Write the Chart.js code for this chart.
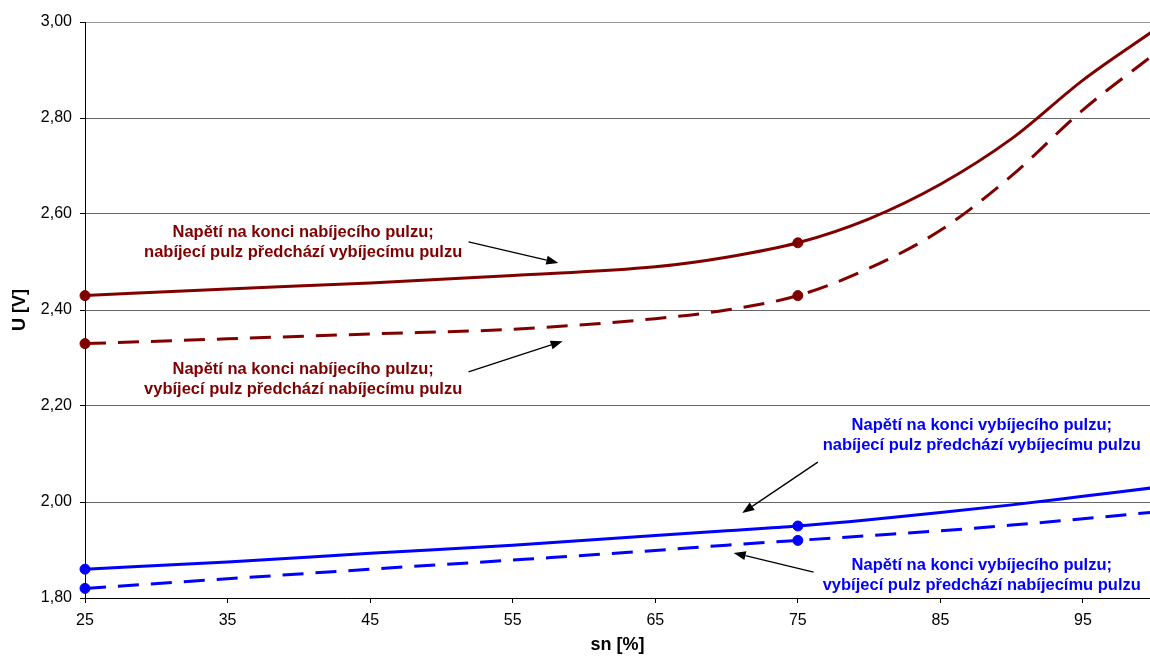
<!DOCTYPE html>
<html>
<head>
<meta charset="utf-8">
<script src="https://cdn.jsdelivr.net/npm/chart.js@4"></script>
<style>
  body { margin: 0; background: #fff; overflow: hidden; }
  #wrap { width: 1150px; height: 657px; position: relative; }
</style>
</head>
<body>
<div id="wrap"><canvas id="myChart"></canvas></div>
<script>
// osa x: sn [%]
const snValues = [25, 35, 45, 55, 65, 70, 75, 80, 85, 90, 95, 100];
// napětí na konci nabíjecího pulzu
const chargeEndChargeFirst = [2.43, 2.444, 2.456, 2.472, 2.49, 2.51, 2.54, 2.59, 2.662, 2.757, 2.879, 2.983];
const chargeEndDischargeFirst = [2.33, 2.34, 2.35, 2.36, 2.382, 2.40, 2.43, 2.487, 2.566, 2.68, 2.817, 2.933];
// napětí na konci vybíjecího pulzu
const dischargeEndChargeFirst = [1.86, 1.875, 1.893, 1.91, 1.93, 1.94, 1.95, 1.963, 1.978, 1.994, 2.012, 2.03];
const dischargeEndDischargeFirst = [1.82, 1.84, 1.86, 1.879, 1.899, 1.91, 1.92, 1.93, 1.94, 1.952, 1.965, 1.979];
// měřené body (značky)
const markedSn = [25, 75];
const xTicks = [25, 35, 45, 55, 65, 75, 85, 95];
const yTicks = [1.8, 2.0, 2.2, 2.4, 2.6, 2.8, 3.0];

const RED = "#800000";
const BLUE = "#0000FF";
const FONT = "'Liberation Sans', Arial, sans-serif";

function toPoints(ys) {
  return snValues.map((x, i) => ({ x: x, y: ys[i] }));
}

function makeSet(label, ys, color, dashed) {
  return {
    label: label,
    data: toPoints(ys),
    borderColor: color,
    backgroundColor: color,
    borderWidth: 3,
    borderDash: dashed ? [21, 12] : [],
    cubicInterpolationMode: "monotone",
    pointRadius: (ctx) => (ctx.raw && markedSn.includes(ctx.raw.x) ? 5 : 0),
    pointHoverRadius: 0,
    pointBorderWidth: 1,
    clip: { left: 10, top: 0, right: 0, bottom: 10 },
  };
}

// popisky se šipkami (souřadnice v jednotkách os)
const notes = [
  { color: RED, x: 40.3, y: 2.54, lines: ["Napětí na konci nabíjecího pulzu;", "nabíjecí pulz předchází vybíjecímu pulzu"], from: [51.9, 2.542], to: [58.2, 2.498] },
  { color: RED, x: 40.3, y: 2.256, lines: ["Napětí na konci nabíjecího pulzu;", "vybíjecí pulz předchází nabíjecímu pulzu"], from: [51.9, 2.271], to: [58.5, 2.335] },
  { color: BLUE, x: 87.9, y: 2.139, lines: ["Napětí na konci vybíjecího pulzu;", "nabíjecí pulz předchází vybíjecímu pulzu"], from: [76.4, 2.083], to: [71.1, 1.977] },
  { color: BLUE, x: 87.9, y: 1.848, lines: ["Napětí na konci vybíjecího pulzu;", "vybíjecí pulz předchází nabíjecímu pulzu"], from: [76.1, 1.854], to: [70.5, 1.894] },
];

const notesPlugin = {
  id: "notes",
  afterDatasetsDraw(chart) {
    const ctx = chart.ctx;
    const xs = chart.scales.x, ys = chart.scales.y;
    ctx.save();
    ctx.font = "bold 16.5px " + FONT;
    ctx.textAlign = "center";
    ctx.textBaseline = "middle";
    notes.forEach((n) => {
      ctx.fillStyle = n.color;
      const cx = xs.getPixelForValue(n.x);
      const cy = ys.getPixelForValue(n.y);
      ctx.fillText(n.lines[0], cx, cy - 10);
      ctx.fillText(n.lines[1], cx, cy + 10);

      const x1 = xs.getPixelForValue(n.from[0]), y1 = ys.getPixelForValue(n.from[1]);
      const x2 = xs.getPixelForValue(n.to[0]), y2 = ys.getPixelForValue(n.to[1]);
      const ang = Math.atan2(y2 - y1, x2 - x1);
      const hl = 12, hw = 4.5;
      ctx.strokeStyle = "#000";
      ctx.fillStyle = "#000";
      ctx.lineWidth = 1.3;
      ctx.beginPath();
      ctx.moveTo(x1, y1);
      ctx.lineTo(x2 - Math.cos(ang) * hl, y2 - Math.sin(ang) * hl);
      ctx.stroke();
      ctx.beginPath();
      ctx.moveTo(x2, y2);
      ctx.lineTo(x2 - Math.cos(ang) * hl - Math.sin(ang) * hw, y2 - Math.sin(ang) * hl + Math.cos(ang) * hw);
      ctx.lineTo(x2 - Math.cos(ang) * hl + Math.sin(ang) * hw, y2 - Math.sin(ang) * hl - Math.cos(ang) * hw);
      ctx.closePath();
      ctx.fill();
    });
    ctx.restore();
  },
};

const ctx = document.getElementById("myChart").getContext("2d");
new Chart(ctx, {
  type: "line",
  data: {
    datasets: [
      makeSet("Napětí na konci nabíjecího pulzu; nabíjecí pulz předchází vybíjecímu pulzu", chargeEndChargeFirst, RED, false),
      makeSet("Napětí na konci nabíjecího pulzu; vybíjecí pulz předchází nabíjecímu pulzu", chargeEndDischargeFirst, RED, true),
      makeSet("Napětí na konci vybíjecího pulzu; nabíjecí pulz předchází vybíjecímu pulzu", dischargeEndChargeFirst, BLUE, false),
      makeSet("Napětí na konci vybíjecího pulzu; vybíjecí pulz předchází nabíjecímu pulzu", dischargeEndDischargeFirst, BLUE, true),
    ],
  },
  options: {
    responsive: true,
    maintainAspectRatio: false,
    animation: false,
    layout: { autoPadding: false, padding: { top: 22, right: 0, left: 0, bottom: 0 } },
    plugins: {
      legend: { display: false },
      tooltip: { enabled: false },
    },
    scales: {
      x: {
        type: "linear",
        min: 25,
        max: 99.7,
        afterBuildTicks: (scale) => { scale.ticks = xTicks.map((v) => ({ value: v })); },
        afterFit: (scale) => {
          scale.height = 59;
          scale.paddingLeft = 0;
          scale.paddingRight = 0;
        },
        grid: { drawOnChartArea: false, tickLength: 5, tickColor: "#000" },
        border: { color: "#000", width: 1 },
        ticks: {
          color: "#000",
          padding: 8,
          maxRotation: 0,
          font: { family: FONT, size: 16 },
        },
        title: {
          display: true,
          text: "sn [%]",
          color: "#000",
          padding: { top: 0, bottom: 1 },
          font: { family: FONT, size: 18, weight: "bold" },
        },
      },
      y: {
        min: 1.8,
        max: 3.0,
        afterBuildTicks: (scale) => { scale.ticks = yTicks.map((v) => ({ value: v })); },
        afterFit: (scale) => { scale.width = 85; },
        grid: {
          color: (c) => (c.tick && c.tick.value === 3.0 ? "#999" : "#666"),
          tickLength: 5,
          tickColor: "#000",
        },
        border: { color: "#000", width: 1 },
        ticks: {
          color: "#000",
          padding: 8,
          font: { family: FONT, size: 16 },
          callback: (v) => v.toFixed(2).replace(".", ","),
        },
        title: {
          display: true,
          text: "U [V]",
          color: "#000",
          padding: { top: 9, bottom: 0 },
          font: { family: FONT, size: 18, weight: "bold" },
        },
      },
    },
  },
  plugins: [notesPlugin],
});
</script>
</body>
</html>
